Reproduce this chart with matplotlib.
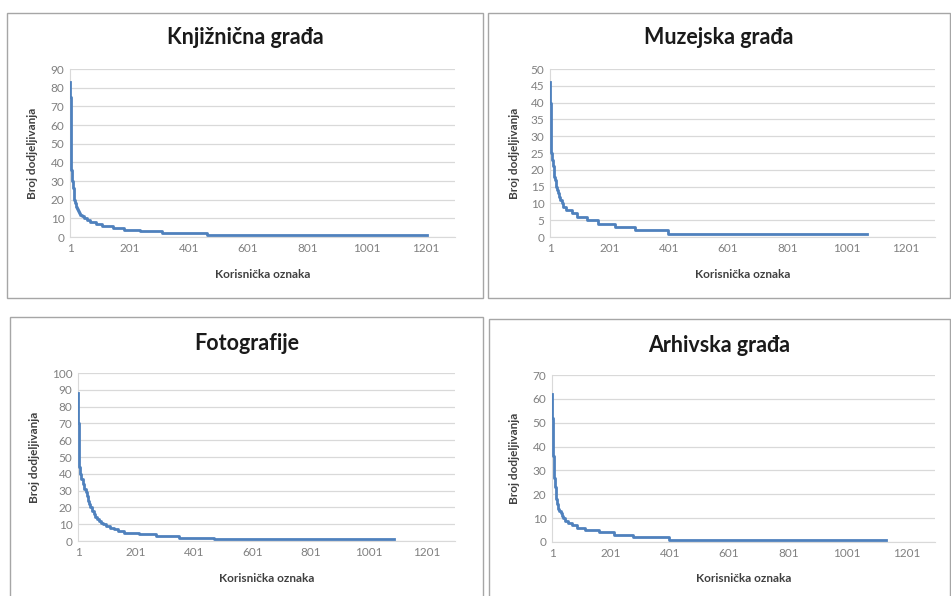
import matplotlib
matplotlib.use("Agg")
import matplotlib.pyplot as plt
from matplotlib.patches import Rectangle
import numpy as np

plt.rcParams["font.family"] = ["Lato", "DejaVu Sans"]

W, H = 951, 596

# step breakpoints: rank where a value starts, and that value
# the last entry is the final rank (end of the series)
knj_rank = [1, 2, 3, 4, 5, 6, 7, 8, 10, 11, 13, 14, 16, 18, 20, 22, 24, 27, 30, 34, 40, 47, 57, 70, 88,
            110, 145, 182, 237, 310, 461, 1202]
knj_val = [83, 75, 60, 48, 41, 36, 33, 30, 28, 26, 24, 22, 20, 18, 17, 16, 15, 14, 13, 12, 11, 10, 9, 8, 7,
           6, 5, 4, 3, 2, 1, 1]

muz_rank = [1, 2, 3, 4, 5, 6, 8, 11, 13, 16, 18, 21, 25, 28, 32, 36, 40, 46, 55, 75, 92, 124, 163, 219,
            287, 399, 1068]
muz_val = [46, 40, 35, 30, 27, 25, 23, 21, 20, 18, 17, 15, 14, 13, 12, 11, 10, 9, 8, 7, 6, 5, 4, 3,
           2, 1, 1]

fot_rank = [1, 2, 3, 4, 6, 9, 12, 17, 22, 27, 31, 36, 40, 44, 50, 55, 61, 66, 72, 80, 88, 98, 110, 125,
            140, 160, 210, 268, 348, 468, 1088]
fot_val = [88, 70, 55, 47, 44, 40, 37, 34, 31, 29, 27, 24, 22, 20, 18, 16, 14, 13, 12, 11, 10, 9, 8, 7,
           6, 5, 4, 3, 2, 1, 1]

arh_rank = [1, 2, 3, 5, 7, 9, 11, 13, 15, 18, 22, 26, 30, 35, 39, 45, 56, 68, 85, 112, 161, 211, 276,
            397, 1131]
arh_val = [62, 52, 42, 36, 31, 27, 23, 20, 18, 16, 14, 13, 12, 11, 10, 9, 8, 7, 6, 5, 4, 3, 2,
           1, 1]

titles = ["Knjižnična građa", "Muzejska građa", "Fotografije", "Arhivska građa"]
x_ticks = [1, 201, 401, 601, 801, 1001, 1201]
y_max = [90, 50, 100, 70]
y_step = [10, 5, 10, 10]
series = [(knj_rank, knj_val), (muz_rank, muz_val), (fot_rank, fot_val), (arh_rank, arh_val)]

# pixel layout: plot area (left, top, right, bottom), frame box, title y, xlabel y, ylabel x
areas = [(70, 69, 455, 237), (550, 69, 935, 237), (78, 373, 455, 541), (552, 375, 935, 542)]
frames = [(7, 13, 483, 298), (488, 13, 950, 298), (10, 317, 483, 600), (489, 319, 950, 600)]
title_y = [38, 38, 343, 345]
xlab_y = [275, 275, 578, 579]
ylab_x = [33, 514, 35, 514]

fig = plt.figure(figsize=(W / 100, H / 100), dpi=100)

for (l, t, r, b) in frames:
    fig.patches.append(Rectangle((l / W, 1 - b / H), (r - l) / W, (b - t) / H,
                                 transform=fig.transFigure, fill=False,
                                 edgecolor="#a6a6a6", linewidth=1.0))

for i in range(4):
    l, t, r, b = areas[i]
    ax = fig.add_axes([l / W, 1 - b / H, (r - l) / W, (b - t) / H])
    rk, vl = series[i]
    ax.step(rk, vl, where="post", color="#4f81bd", linewidth=2.0, zorder=3)
    ax.set_xlim(1, 1298)
    ax.set_ylim(0, y_max[i])
    ax.set_xticks(x_ticks)
    ax.set_yticks(np.arange(0, y_max[i] + 1, y_step[i]))
    ax.tick_params(length=0, labelsize=8.5, colors="#808080", pad=4)
    ax.grid(axis="y", color="#d9d9d9", linewidth=0.9)
    ax.set_axisbelow(True)
    for s in ["top", "right"]:
        ax.spines[s].set_visible(False)
    for s in ["left", "bottom"]:
        ax.spines[s].set_color("#d9d9d9")
    cx = (frames[i][0] + frames[i][2]) / 2
    fig.text(cx / W, 1 - title_y[i] / H, titles[i], ha="center", va="center",
             fontsize=15.5, fontweight="bold", color="#1a1a1a")
    fig.text(((l + r) / 2) / W, 1 - xlab_y[i] / H, "Korisnička oznaka", ha="center",
             va="center", fontsize=8.5, fontweight="bold", color="#404040")
    fig.text(ylab_x[i] / W, 1 - ((t + b) / 2) / H, "Broj dodjeljivanja", ha="center",
             va="center", rotation=90, fontsize=8.5, fontweight="bold", color="#404040")

fig.savefig("out.png", dpi=100)
